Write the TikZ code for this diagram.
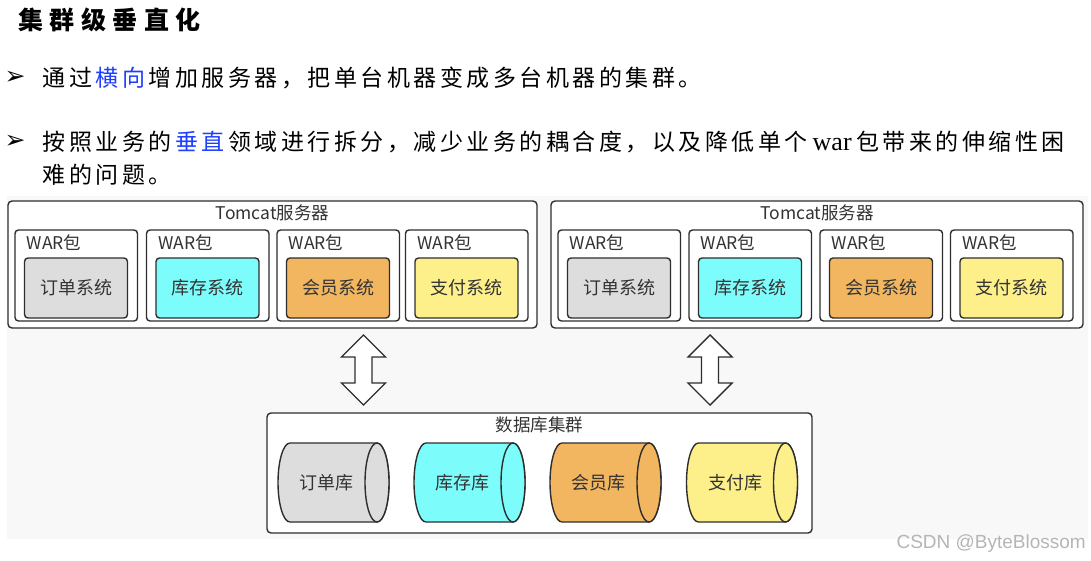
\documentclass[tikz,border=0pt]{standalone}
\usepackage{fontspec}
\setmainfont{Noto Sans CJK SC}
\newfontfamily\cjk{Noto Sans CJK SC}
\newfontfamily\serifw{Liberation Serif}
\newfontfamily\dejavu{DejaVu Sans}
\newfontfamily\arialf{Liberation Sans}
\ExplSyntaxOn
\NewDocumentCommand\cjkrow{m m}{ \tl_map_inline:nn {#2} { \makebox[#1][c]{##1} } }
\ExplSyntaxOff
\definecolor{linec}{HTML}{2E2E2E}
\definecolor{txt}{HTML}{333333}
\definecolor{bgc}{HTML}{F8F8F8}
\definecolor{cgray}{HTML}{DDDDDD}
\definecolor{ccyan}{HTML}{7DFCFC}
\definecolor{corange}{HTML}{F1B65F}
\definecolor{cyellow}{HTML}{FDF08A}
\definecolor{hblue}{HTML}{1F3FFF}
\definecolor{wmc}{HTML}{B5B5B5}
\tikzset{
  outerbox/.style={draw=linec, line width=1.4pt, rounded corners=4pt, fill=white, inner sep=0pt, outer sep=0pt, anchor=north west},
  warbox/.style={outerbox, minimum width=122.5pt, minimum height=91pt, rounded corners=3.5pt},
  sysbox/.style={outerbox, minimum width=103pt, minimum height=60pt, rounded corners=3.5pt, text=txt, font=\cjk\fontsize{18}{18}\selectfont},
  lbl/.style={inner sep=0pt, text=txt, font=\cjk\fontsize{17.5}{17.5}\selectfont},
  cylbody/.style={draw=linec, line width=1.4pt},
  arrowshape/.style={draw=linec, line width=1.4pt, fill=white, line join=miter},
  bul/.style={inner sep=0pt, font=\dejavu\fontsize{25}{25}\selectfont},
  bodytext/.style={anchor=west, inner sep=0pt, font=\cjk\fontsize{23}{23}\selectfont}
}
\newcommand\bw[1]{\cjkrow{26.5pt}{#1}}
\begin{document}
\begin{tikzpicture}[x=1pt,y=1pt]
\useasboundingbox (0,0) rectangle (1091,-561);
\fill[bgc] (7,-196) rectangle (1088,-539);

% heading and text
\node[anchor=west, inner sep=0pt, font=\cjk\bfseries\fontsize{25}{25}\selectfont] (title) at (15,-20) {\cjkrow{31.5pt}{集群级垂直化}};
\node[bul] (b1) at (15,-78) {➢};
\node[bodytext] (l1) at (41,-78) {\bw{通过}\textcolor{hblue}{\bw{横向}}\bw{增加服务器，把单台机器变成多台机器的集群。}};
\node[bul] (b2) at (15,-142) {➢};
\node[bodytext] (l2) at (41,-142) {\bw{按照业务的}\textcolor{hblue}{\bw{垂直}}\bw{领域进行拆分，减少业务的耦合度，以及降低单个}\makebox[45pt][c]{\serifw\fontsize{26}{26}\selectfont war}\bw{包带来的伸缩性困}};
\node[bodytext] (l3) at (41,-175) {\bw{难的问题。}};

% Tomcat servers
\node[outerbox, minimum width=529pt, minimum height=127pt] (tc1) at (8,-201) {};
\node[lbl] (tc1t) at ([yshift=-12pt]tc1.north) {Tomcat服务器};
\node[outerbox, minimum width=532pt, minimum height=127pt] (tc2) at (551,-201) {};
\node[lbl] (tc2t) at ([yshift=-12pt]tc2.north) {Tomcat服务器};

\foreach \n/\x/\c/\t in {1/15/cgray/订单系统, 2/146.5/ccyan/库存系统, 3/277/corange/会员系统, 4/405.5/cyellow/支付系统}{
  \node[warbox] (wl\n) at (\x,-230) {};
  \node[lbl, anchor=west] (wlt\n) at ([xshift=11.5pt,yshift=-13pt]wl\n.north west) {WAR包};
  \node[sysbox, fill=\c] (sl\n) at ([xshift=9.5pt,yshift=-28pt]wl\n.north west) {\t};
}
\foreach \n/\x/\c/\t in {1/558/cgray/订单系统, 2/689/ccyan/库存系统, 3/820/corange/会员系统, 4/950.5/cyellow/支付系统}{
  \node[warbox] (wr\n) at (\x,-230) {};
  \node[lbl, anchor=west] (wrt\n) at ([xshift=11.5pt,yshift=-13pt]wr\n.north west) {WAR包};
  \node[sysbox, fill=\c] (sr\n) at ([xshift=9.5pt,yshift=-28pt]wr\n.north west) {\t};
}

% database cluster
\node[outerbox, minimum width=545pt, minimum height=120pt] (db) at (267,-413) {};
\node[lbl] (dbt) at ([yshift=-12pt]db.north) {数据库集群};

\foreach \n/\x/\c/\t in {1/278/cgray/订单库, 2/414/ccyan/库存库, 3/550/corange/会员库, 4/686.5/cyellow/支付库}{
  \node[inner sep=0pt, outer sep=0pt, minimum width=111pt, minimum height=79pt, anchor=north west] (cy\n) at (\x,-443) {};
  \draw[cylbody, fill=\c] ([xshift=12pt]cy\n.north west) -- ([xshift=-12pt]cy\n.north east)
     arc[start angle=90, end angle=-90, x radius=12pt, y radius=39.5pt]
     -- ([xshift=12pt]cy\n.south west)
     arc[start angle=270, end angle=90, x radius=12pt, y radius=39.5pt] -- cycle;
  \draw[cylbody, fill=\c] ([xshift=-12pt]cy\n.east) ellipse[x radius=12pt, y radius=39.5pt];
  \node[lbl, font=\cjk\fontsize{18}{18}\selectfont] (cyt\n) at ([xshift=-7pt]cy\n.center) {\t};
}

% double arrows between the Tomcat servers and the database cluster
\coordinate (ar1) at (363.5,-370);
\coordinate (ar2) at (710,-370);
\foreach \a in {ar1,ar2}{
  \draw[arrowshape] ([yshift=35pt]\a) -- ++(22,-22) -- ++(-13.5,0) -- ++(0,-26) -- ++(13.5,0)
     -- ++(-22,-22) -- ++(-22,22) -- ++(13.5,0) -- ++(0,26) -- ++(-13.5,0) -- cycle;
}

% watermark
\node[anchor=east, inner sep=0pt, font=\arialf\fontsize{19}{19}\selectfont, text=wmc] (wm) at (1086,-544) {CSDN @ByteBlossom};
\end{tikzpicture}
\end{document}
